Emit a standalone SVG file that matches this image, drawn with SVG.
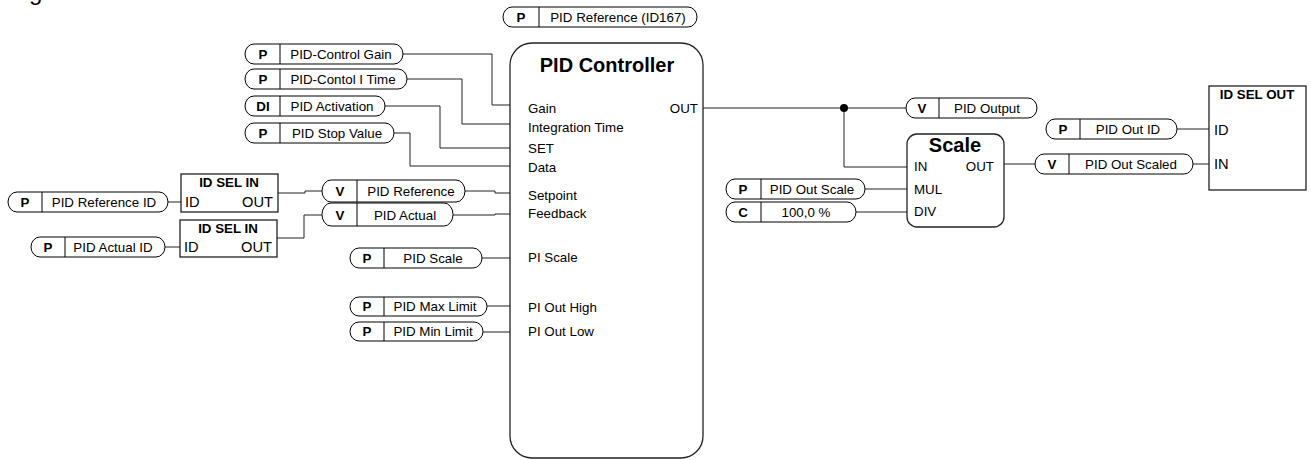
<svg xmlns="http://www.w3.org/2000/svg" width="1311" height="460" viewBox="0 0 1311 460">
<style>
text{font-family:"Liberation Sans",Arial,sans-serif;fill:#000}
.t{font-size:13.33px}
.b{font-size:13.33px;font-weight:bold}
.c{text-anchor:middle}
.e{text-anchor:end}
.h{font-size:20px;font-weight:bold}
.io{font-size:14.67px}
.pill{fill:#fff;stroke:#000;stroke-width:1}
.div{stroke:#000;stroke-width:1}
.box{fill:#fff;stroke:#222;stroke-width:1.3}
.w{fill:none;stroke:#222;stroke-width:1}
</style>
<rect width="1311" height="460" fill="#fff"/>
<text x="29" y="0" style="font-family:'Liberation Sans',Arial,sans-serif;font-size:24px">g</text>

<g id="connectors">
<polyline class="w" points="403,54 492,54 492,105 510,105"/>
<polyline class="w" points="407,79 462,79 462,124 510,124"/>
<polyline class="w" points="385,106 440,106 440,148 510,148"/>
<polyline class="w" points="394,133 410,133 410,166 510,166"/>
<polyline class="w" points="168,202 181,202"/>
<polyline class="w" points="165,247 180,247"/>
<polyline class="w" points="278,193 305,193 305,191 322,191"/>
<polyline class="w" points="277,238 304,238 304,215 322,215"/>
<polyline class="w" points="465,191 495,191 495,193 510,193"/>
<polyline class="w" points="453,215 495,215 495,214 510,214"/>
<polyline class="w" points="482,258 510,258"/>
<polyline class="w" points="487,306 510,306"/>
<polyline class="w" points="483,332 510,332"/>
<polyline class="w" points="703,108 906,108"/>
<polyline class="w" points="844,108 844,167 907,167"/>
<circle cx="844" cy="108" r="4" fill="#000"/>
<polyline class="w" points="865,189 907,189"/>
<polyline class="w" points="856,212 907,212"/>
<polyline class="w" points="1004,164 1035,164"/>
<polyline class="w" points="1177,129 1209,129"/>
<polyline class="w" points="1193,164 1209,164"/>
</g>

<g id="pid-ref-id167">
<rect class="pill" x="503" y="7" width="194" height="20" rx="9" ry="10"/>
<line class="div" x1="539" y1="7" x2="539" y2="27"/>
<text class="b c" x="521" y="22">P</text>
<text class="t c" x="618" y="22">PID Reference (ID167)</text>
</g>

<g id="pid-control-gain">
<rect class="pill" x="245" y="44" width="158" height="20" rx="9" ry="10"/>
<line class="div" x1="280" y1="44" x2="280" y2="64"/>
<text class="b c" x="263" y="59">P</text>
<text class="t c" x="341" y="59">PID-Control Gain</text>
</g>

<g id="pid-control-itime">
<rect class="pill" x="245" y="69" width="162" height="20" rx="9" ry="10"/>
<line class="div" x1="280" y1="69" x2="280" y2="89"/>
<text class="b c" x="263" y="84">P</text>
<text class="t c" x="343" y="84">PID-Contol I Time</text>
</g>

<g id="pid-activation">
<rect class="pill" x="245" y="96" width="140" height="20" rx="9" ry="10"/>
<line class="div" x1="280" y1="96" x2="280" y2="116"/>
<text class="b c" x="263" y="111">DI</text>
<text class="t c" x="332" y="111">PID Activation</text>
</g>

<g id="pid-stop-value">
<rect class="pill" x="245" y="123" width="149" height="20" rx="9" ry="10"/>
<line class="div" x1="280" y1="123" x2="280" y2="143"/>
<text class="b c" x="263" y="138">P</text>
<text class="t c" x="337" y="138">PID Stop Value</text>
</g>

<g id="pid-reference-id">
<rect class="pill" x="8" y="192" width="160" height="20" rx="9" ry="10"/>
<line class="div" x1="42" y1="192" x2="42" y2="212"/>
<text class="b c" x="25" y="207">P</text>
<text class="t c" x="104" y="207">PID Reference ID</text>
</g>

<g id="pid-actual-id">
<rect class="pill" x="31" y="237" width="134" height="20" rx="9" ry="10"/>
<line class="div" x1="65" y1="237" x2="65" y2="257"/>
<text class="b c" x="48" y="252">P</text>
<text class="t c" x="113" y="252">PID Actual ID</text>
</g>

<g id="id-sel-in-1">
<rect class="box" x="181" y="174" width="97" height="38"/>
<text class="b c" x="229" y="187">ID SEL IN</text>
<text class="io" x="185" y="207">ID</text>
<text class="io e" x="273" y="207">OUT</text>
</g>

<g id="id-sel-in-2">
<rect class="box" x="180" y="220" width="97" height="37"/>
<text class="b c" x="228" y="233">ID SEL IN</text>
<text class="io" x="184" y="252">ID</text>
<text class="io e" x="272" y="252">OUT</text>
</g>

<g id="v-pid-reference">
<rect class="pill" x="322" y="180" width="143" height="22" rx="9" ry="11"/>
<line class="div" x1="357" y1="180" x2="357" y2="202"/>
<text class="b c" x="340" y="196">V</text>
<text class="t c" x="411" y="196">PID Reference</text>
</g>

<g id="v-pid-actual">
<rect class="pill" x="322" y="203" width="131" height="23" rx="9" ry="11.5"/>
<line class="div" x1="357" y1="203" x2="357" y2="226"/>
<text class="b c" x="340" y="219.5">V</text>
<text class="t c" x="405" y="219.5">PID Actual</text>
</g>

<g id="pid-scale">
<rect class="pill" x="350" y="248" width="132" height="20" rx="9" ry="10"/>
<line class="div" x1="384" y1="248" x2="384" y2="268"/>
<text class="b c" x="367" y="263">P</text>
<text class="t c" x="433" y="263">PID Scale</text>
</g>

<g id="pid-max-limit">
<rect class="pill" x="350" y="297" width="137" height="19" rx="9" ry="9.5"/>
<line class="div" x1="384" y1="297" x2="384" y2="316"/>
<text class="b c" x="367" y="311">P</text>
<text class="t c" x="435" y="311">PID Max Limit</text>
</g>

<g id="pid-min-limit">
<rect class="pill" x="350" y="322" width="133" height="19" rx="9" ry="9.5"/>
<line class="div" x1="384" y1="322" x2="384" y2="341"/>
<text class="b c" x="367" y="336">P</text>
<text class="t c" x="433" y="336">PID Min Limit</text>
</g>

<g id="pid-controller">
<rect class="box" x="510" y="43" width="193" height="415" rx="22" ry="22"/>
<text class="h c" x="607" y="72">PID Controller</text>
<text class="t" x="528" y="113">Gain</text>
<text class="t e" x="698" y="113">OUT</text>
<text class="t" x="528" y="132">Integration Time</text>
<text class="t" x="528" y="153">SET</text>
<text class="t" x="528" y="172">Data</text>
<text class="t" x="528" y="200">Setpoint</text>
<text class="t" x="528" y="218">Feedback</text>
<text class="t" x="528" y="262">PI Scale</text>
<text class="t" x="528" y="312">PI Out High</text>
<text class="t" x="528" y="336">PI Out Low</text>
</g>

<g id="v-pid-output">
<rect class="pill" x="906" y="98" width="131" height="20" rx="9" ry="10"/>
<line class="div" x1="939" y1="98" x2="939" y2="118"/>
<text class="b c" x="922" y="113">V</text>
<text class="t c" x="987" y="113">PID Output</text>
</g>

<g id="pid-out-scale">
<rect class="pill" x="726" y="179" width="139" height="20" rx="9" ry="10"/>
<line class="div" x1="761" y1="179" x2="761" y2="199"/>
<text class="b c" x="743" y="194">P</text>
<text class="t c" x="812" y="194">PID Out Scale</text>
</g>

<g id="c-100">
<rect class="pill" x="726" y="202" width="130" height="20" rx="9" ry="10"/>
<line class="div" x1="761" y1="202" x2="761" y2="222"/>
<text class="b c" x="743" y="217">C</text>
<text class="t c" x="806" y="217">100,0 %</text>
</g>

<g id="scale">
<rect class="box" x="907" y="134" width="97" height="93" rx="10" ry="10"/>
<text class="h c" x="955" y="152">Scale</text>
<text class="t" x="914" y="171">IN</text>
<text class="t e" x="994" y="171">OUT</text>
<text class="t" x="914" y="194">MUL</text>
<text class="t" x="914" y="216">DIV</text>
</g>

<g id="pid-out-id">
<rect class="pill" x="1046" y="119" width="131" height="20" rx="9" ry="10"/>
<line class="div" x1="1080" y1="119" x2="1080" y2="139"/>
<text class="b c" x="1063" y="134">P</text>
<text class="t c" x="1128" y="134">PID Out ID</text>
</g>

<g id="v-pid-out-scaled">
<rect class="pill" x="1035" y="154" width="158" height="20" rx="9" ry="10"/>
<line class="div" x1="1069" y1="154" x2="1069" y2="174"/>
<text class="b c" x="1052" y="169">V</text>
<text class="t c" x="1131" y="169">PID Out Scaled</text>
</g>

<g id="id-sel-out">
<rect class="box" x="1209" y="86" width="97" height="104"/>
<text class="b c" x="1257" y="99">ID SEL OUT</text>
<text class="io" x="1214" y="135">ID</text>
<text class="io" x="1214" y="169">IN</text>
</g>
</svg>
